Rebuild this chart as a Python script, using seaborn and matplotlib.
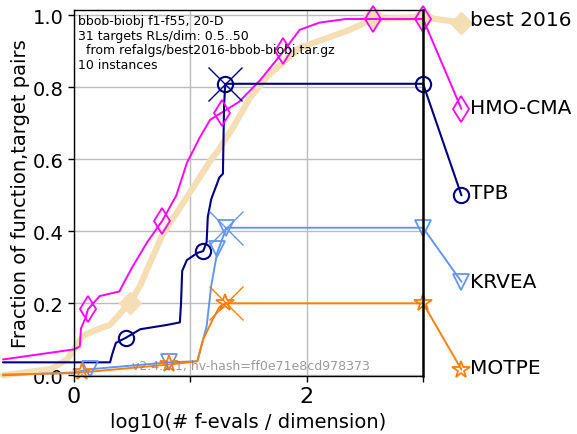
import matplotlib
matplotlib.use("Agg")
import matplotlib.pyplot as plt
import seaborn as sns
import pandas as pd

# ---------------- data ----------------
best_x = [-0.61, -0.2, -0.06, 0.0, 0.077, 0.22, 0.31, 0.42, 0.48, 0.57, 0.65, 0.76, 0.94,
          1.18, 1.23, 1.37, 1.51, 1.66, 1.8, 1.94, 2.2, 2.37, 2.57, 3.0, 3.33]
best_y = [0.0, 0.017, 0.044, 0.072, 0.11, 0.13, 0.14, 0.18, 0.2, 0.25, 0.31, 0.39, 0.48,
          0.6, 0.62, 0.69, 0.77, 0.83, 0.87, 0.91, 0.94, 0.96, 0.99, 0.995, 0.98]
best_mx = [0.48, 2.57, 3.0, 3.33]
best_my = [0.2, 0.995, 0.995, 0.98]

hmo_x = [-0.61, 0.0, 0.05, 0.06, 0.1, 0.12, 0.22, 0.39, 0.45, 0.5, 0.63, 0.76, 0.88, 0.97,
         1.08, 1.17, 1.27, 1.42, 1.6, 1.8, 1.94, 2.11, 2.34, 2.57, 3.0, 3.33]
hmo_y = [0.044, 0.072, 0.08, 0.13, 0.16, 0.183, 0.22, 0.233, 0.27, 0.3, 0.37, 0.43, 0.5, 0.59,
         0.66, 0.71, 0.73, 0.76, 0.82, 0.9, 0.96, 0.98, 0.99, 0.99, 0.99, 0.74]
hmo_mx = [0.12, 0.76, 1.27, 1.8, 2.57, 3.0, 3.33]
hmo_my = [0.183, 0.43, 0.73, 0.9, 0.99, 0.99, 0.74]

tpb_x = [-0.61, 0.31, 0.33, 0.36, 0.45, 0.57, 0.8, 0.91, 0.92, 0.93, 0.97, 1.06, 1.11, 1.14,
         1.15, 1.18, 1.25, 1.28, 1.29, 1.30, 3.0, 3.33]
tpb_y = [0.036, 0.036, 0.06, 0.09, 0.105, 0.128, 0.14, 0.147, 0.2, 0.29, 0.32, 0.34, 0.345, 0.37,
         0.44, 0.49, 0.55, 0.56, 0.75, 0.81, 0.81, 0.5]
tpb_mx = [0.45, 1.11, 1.3, 3.0, 3.33]
tpb_my = [0.105, 0.345, 0.81, 0.81, 0.5]

krv_x = [-0.61, 0.0, 0.14, 0.82, 1.06, 1.14, 1.18, 1.23, 1.31, 3.0, 3.33]
krv_y = [0.0, 0.008, 0.017, 0.036, 0.039, 0.136, 0.25, 0.34, 0.41, 0.41, 0.26]
krv_mx = [0.14, 0.82, 1.23, 1.31, 3.0, 3.33]
krv_my = [0.017, 0.036, 0.35, 0.41, 0.41, 0.26]

mot_x = [-0.61, 0.0, 0.07, 0.82, 1.06, 1.11, 1.2, 1.25, 1.3, 3.0, 3.33]
mot_y = [0.002, 0.006, 0.008, 0.03, 0.039, 0.1, 0.16, 0.19, 0.2, 0.2, 0.016]
mot_mx = [0.07, 0.82, 1.3, 3.0, 3.33]
mot_my = [0.008, 0.03, 0.2, 0.2, 0.016]

# big "x" marks (median max evals)
cross_x = [1.3, 1.31, 1.31]
cross_y = [0.81, 0.41, 0.2]

names = ["best 2016", "HMO-CMA", "TPB", "KRVEA", "MOTPE"]
label_y = [0.99, 0.744, 0.508, 0.261, 0.022]

x_ticks = [0, 1, 2, 3]
x_ticklabels = ["0", "", "2", ""]
y_ticks = [0.0, 0.2, 0.4, 0.6, 0.8, 1.0]

# ---------------- plot ----------------
sns.set_theme(style="white")
plt.rcParams["font.family"] = ["DejaVu Sans"]
plt.rcParams["text.color"] = "black"
plt.rcParams["axes.labelcolor"] = "black"

fig = plt.figure(figsize=(5.77, 4.35), dpi=100)
ax = fig.add_axes([0.1282, 0.1333, 0.605, 0.8414])

colors = {"best 2016": "#F5DEB3", "HMO-CMA": "#FF00FF", "TPB": "#000080",
          "KRVEA": "#6495ED", "MOTPE": "#FF7F0E"}

def curve(x, y, color, lw):
    df = pd.DataFrame({"x": x, "y": y})
    sns.lineplot(data=df, x="x", y="y", ax=ax, color=color, lw=lw,
                 sort=False, estimator=None)

curve(best_x, best_y, colors["best 2016"], 4.5)
ax.plot(best_mx, best_my, ls="none", marker="D", ms=11, color=colors["best 2016"], clip_on=False)

curve(hmo_x, hmo_y, colors["HMO-CMA"], 1.4)
curve(tpb_x, tpb_y, colors["TPB"], 1.5)
curve(krv_x, krv_y, colors["KRVEA"], 1.4)
curve(mot_x, mot_y, colors["MOTPE"], 1.4)

ax.plot(hmo_mx, hmo_my, ls="none", marker="d", ms=13, mfc="none", mec=colors["HMO-CMA"], mew=1.3, clip_on=False)
ax.plot(tpb_mx, tpb_my, ls="none", marker="o", ms=11, mfc="none", mec=colors["TPB"], mew=1.5, clip_on=False)
ax.plot(krv_mx, krv_my, ls="none", marker="v", ms=12, mfc="none", mec=colors["KRVEA"], mew=1.3, clip_on=False)
ax.plot(mot_mx, mot_my, ls="none", marker="*", ms=13, mfc="none", mec=colors["MOTPE"], mew=1.3, clip_on=False)

cross_colors = [colors["TPB"], colors["KRVEA"], colors["MOTPE"]]
for cx, cy, cc in zip(cross_x, cross_y, cross_colors):
    ax.plot([cx], [cy], marker="x", ms=24, mew=1.0, color=cc, ls="none", clip_on=False)

for l in ax.lines:
    l.set_clip_on(False)

for n, yy in zip(names, label_y):
    ax.text(3.4, yy, n, fontsize=14.5, va="center", ha="left", color="black", clip_on=False)

ax.set_xlim(0, 3)
ax.set_ylim(-0.002, 1.015)
ax.set_xticks(x_ticks)
ax.set_xticklabels(x_ticklabels, fontsize=16)
ax.set_yticks(y_ticks)
ax.set_yticklabels([f"{v:.1f}" for v in y_ticks], fontsize=14)
ax.tick_params(axis="both", direction="out", length=4, width=1, colors="black", labelcolor="black",
               bottom=True, left=True)
ax.grid(True, color="#BBBBBB", lw=1)
ax.set_axisbelow(True)
for s in ax.spines.values():
    s.set_color("black")
    s.set_linewidth(1)
ax.spines["right"].set_linewidth(1.8)

ax.set_xlabel("log10(# f-evals / dimension)", fontsize=14, color="black")
ax.set_ylabel("Fraction of function,target pairs", fontsize=14, labelpad=2, color="black")

ax.text(0.012, 0.988, "bbob-biobj f1-f55, 20-D\n31 targets RLs/dim: 0.5..50\n  from refalgs/best2016-bbob-biobj.tar.gz\n10 instances",
        transform=ax.transAxes, fontsize=9, va="top", ha="left", linespacing=1.15, color="black")
ax.text(0.5, 0.008, "v2.4.1.1, hv-hash=ff0e71e8cd978373", fontsize=9, color="gray",
        alpha=0.8, ha="left", va="bottom")

fig.savefig("out.png", dpi=100)
